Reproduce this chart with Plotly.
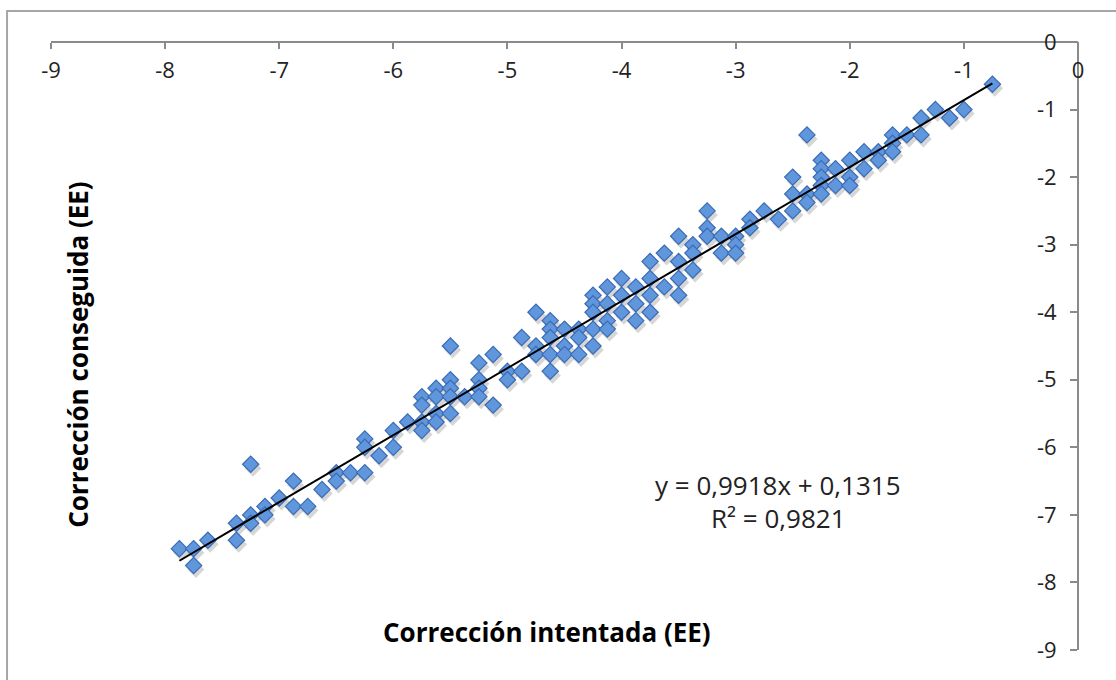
import plotly.graph_objects as go

# Corrección intentada (EE) -- x values
intentada = [
    -7.875, -7.75, -7.75, -7.625, -7.375, -7.375, -7.25, -7.25, -7.25, -7.125,
    -7.125, -7.0, -6.875, -6.875, -6.75, -6.625, -6.5, -6.5, -6.375, -6.25,
    -6.25, -6.25, -6.125, -6.0, -6.0, -5.875, -5.75, -5.75, -5.75, -5.75,
    -5.625, -5.625, -5.625, -5.625, -5.5, -5.5, -5.5, -5.5, -5.5, -5.375,
    -5.25, -5.25, -5.25, -5.25, -5.125, -5.125, -5.0, -5.0, -4.875, -4.875,
    -4.75, -4.75, -4.75, -4.625, -4.625, -4.625, -4.625, -4.625, -4.5, -4.5,
    -4.5, -4.375, -4.375, -4.375, -4.25, -4.25, -4.25, -4.25, -4.25, -4.125,
    -4.125, -4.125, -4.125, -4.0, -4.0, -4.0, -3.875, -3.875, -3.875, -3.75,
    -3.75, -3.75, -3.75, -3.625, -3.625, -3.5, -3.5, -3.5, -3.5, -3.375,
    -3.375, -3.375, -3.25, -3.25, -3.25, -3.125, -3.125, -3.0, -3.0, -3.0,
    -2.875, -2.875, -2.75, -2.625, -2.5, -2.5, -2.5, -2.375, -2.375, -2.375,
    -2.25, -2.25, -2.25, -2.25, -2.25, -2.125, -2.125, -2.0, -2.0, -2.0,
    -1.875, -1.875, -1.75, -1.75, -1.625, -1.625, -1.625, -1.5, -1.375, -1.375,
    -1.25, -1.125, -1.0, -0.75,
]

# Corrección conseguida (EE) -- y values
conseguida = [
    -7.5, -7.5, -7.75, -7.375, -7.125, -7.375, -6.25, -7.0, -7.125, -6.875,
    -7.0, -6.75, -6.5, -6.875, -6.875, -6.625, -6.375, -6.5, -6.375, -6.375,
    -5.875, -6.0, -6.125, -5.75, -6.0, -5.625, -5.25, -5.375, -5.625, -5.75,
    -5.125, -5.25, -5.5, -5.625, -5.0, -5.125, -5.25, -5.5, -4.5, -5.25,
    -4.75, -5.0, -5.125, -5.25, -4.625, -5.375, -4.875, -5.0, -4.875, -4.375,
    -4.0, -4.5, -4.625, -4.125, -4.25, -4.375, -4.625, -4.875, -4.25, -4.5,
    -4.625, -4.25, -4.375, -4.625, -3.75, -3.875, -4.0, -4.25, -4.5, -3.625,
    -3.875, -4.125, -4.25, -3.5, -3.75, -4.0, -3.625, -3.875, -4.125, -3.25,
    -3.5, -3.75, -4.0, -3.125, -3.625, -2.875, -3.25, -3.5, -3.75, -3.0,
    -3.125, -3.375, -2.5, -2.75, -2.875, -2.875, -3.125, -2.875, -3.0, -3.125,
    -2.625, -2.75, -2.5, -2.625, -2.0, -2.25, -2.5, -2.25, -2.375, -1.375,
    -1.75, -1.875, -2.0, -2.125, -2.25, -1.875, -2.125, -1.75, -2.0, -2.125,
    -1.625, -1.875, -1.625, -1.75, -1.375, -1.5, -1.625, -1.375, -1.125, -1.375,
    -1.0, -1.125, -1.0, -0.625,
]

slope = 0.9918
intercept = 0.1315
r2 = 0.9821

axis_ticks = [-9, -8, -7, -6, -5, -4, -3, -2, -1, 0]

FONT = "Open Sans"
AXIS_COLOR = "#8a8a8a"

fig = go.Figure()

# soft drop shadow of the markers
fig.add_trace(go.Scatter(
    x=[v + 0.02 for v in intentada],
    y=[v - 0.06 for v in conseguida],
    mode="markers",
    marker=dict(symbol="diamond", size=13, color="rgba(0,0,0,0.16)", line=dict(width=0)),
    hoverinfo="skip", showlegend=False,
))

fig.add_trace(go.Scatter(
    x=intentada, y=conseguida, mode="markers",
    marker=dict(symbol="diamond", size=12.5, color="#6096dc",
                line=dict(color="#3a6bb4", width=1.2)),
    showlegend=False,
))

x_min, x_max = min(intentada), max(intentada)
fig.add_trace(go.Scatter(
    x=[x_min, x_max], y=[slope * x_min + intercept, slope * x_max + intercept],
    mode="lines", line=dict(color="black", width=2), showlegend=False,
))

fig.update_layout(
    width=1116, height=680,
    margin=dict(l=51, r=38, t=42, b=30),
    paper_bgcolor="white", plot_bgcolor="white",
    font=dict(family=FONT, color="#222"),
    xaxis=dict(
        range=[-9, 0], tickvals=axis_ticks, ticktext=[str(v) for v in axis_ticks],
        anchor="free", position=1, side="bottom",
        showline=True, linecolor=AXIS_COLOR, linewidth=2,
        ticks="outside", ticklen=6, tickwidth=2, tickcolor=AXIS_COLOR,
        ticklabelstandoff=3,
        showgrid=False, zeroline=False,
        tickfont=dict(family=FONT, size=22, color="#222"),
    ),
    yaxis=dict(
        range=[-9, 0], tickvals=axis_ticks, ticktext=[str(v) for v in axis_ticks],
        anchor="free", position=1, side="left",
        showline=True, linecolor=AXIS_COLOR, linewidth=2,
        ticks="outside", ticklen=7, tickwidth=2, tickcolor=AXIS_COLOR,
        ticklabelstandoff=9,
        showgrid=False, zeroline=False,
        tickfont=dict(family=FONT, size=22, color="#222"),
    ),
    shapes=[dict(
        type="rect", xref="paper", yref="paper",
        x0=-0.0428, x1=1.2, y0=-0.3, y1=1.051,
        line=dict(color="#a6a6a6", width=2), fillcolor="rgba(0,0,0,0)", layer="below",
    )],
    annotations=[
        dict(text="<b>Corrección intentada (EE)</b>", xref="paper", yref="paper",
             x=0.483, y=0.030, showarrow=False, xanchor="center", yanchor="middle",
             font=dict(family=FONT, size=26, color="black")),
        dict(text="<b>Corrección conseguida (EE)</b>", xref="paper", yref="paper",
             x=0.026, y=0.485, showarrow=False, textangle=-90,
             xanchor="center", yanchor="middle",
             font=dict(family=FONT, size=26, color="black")),
        dict(text="y = 0,9918x + 0,1315", xref="paper", yref="paper",
             x=0.708, y=0.271, showarrow=False, xanchor="center", yanchor="middle",
             font=dict(family=FONT, size=26, color="#222")),
        dict(text="R² = 0,9821", xref="paper", yref="paper",
             x=0.708, y=0.217, showarrow=False, xanchor="center", yanchor="middle",
             font=dict(family=FONT, size=26, color="#222")),
    ],
)

fig.write_html("out.html")
